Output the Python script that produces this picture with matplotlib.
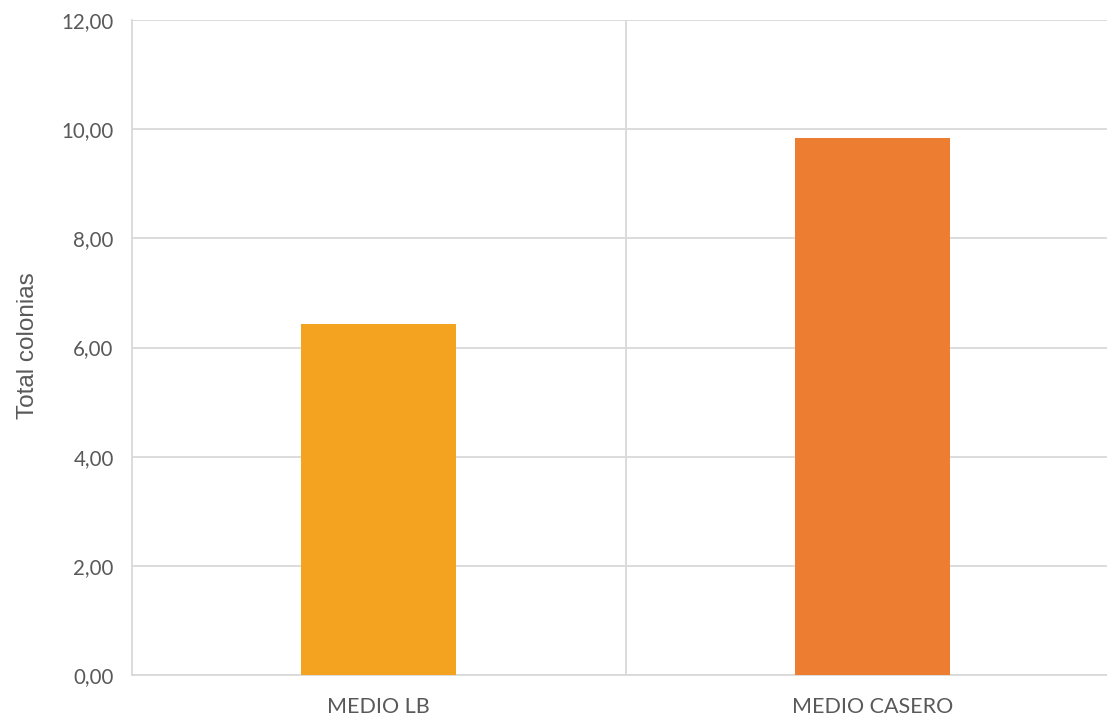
import matplotlib
matplotlib.use("Agg")
import matplotlib.pyplot as plt
from matplotlib.ticker import FuncFormatter

categories = ["MEDIO LB", "MEDIO CASERO"]
values = [6.43, 9.84]
colors = ["#F4A321", "#ED7D31"]
y_ticks = [0, 2, 4, 6, 8, 10, 12]

W, H = 1107, 721
fig = plt.figure(figsize=(W / 100, H / 100), dpi=100)
left, right, top, bottom = 131.7, 1107, 20, 675
ax = fig.add_axes([left / W, (H - bottom) / H, (right - left) / W, (bottom - top) / H])

cat_w = 494.0
ax.set_xlim(-0.5, -0.5 + (right - left) / cat_w)
ax.set_ylim(0, 12)

x = list(range(len(categories)))
ax.bar(x, values, width=155 / cat_w, color=colors, zorder=3)

grid_c = "#D9D9D9"
ax.set_yticks(y_ticks)
ax.yaxis.set_major_formatter(FuncFormatter(lambda v, p: f"{v:.2f}".replace(".", ",")))
ax.grid(axis="y", color=grid_c, linewidth=1.3, zorder=0)
ax.axvline(0.5, color=grid_c, linewidth=1.3, zorder=0)

for s in ["top", "right"]:
    ax.spines[s].set_visible(False)
for s in ["left", "bottom"]:
    ax.spines[s].set_color(grid_c)
    ax.spines[s].set_linewidth(1.3)

ax.set_xticks(x)
ax.set_xticklabels(categories)
txt_c = "#595959"
ax.tick_params(axis="both", length=0, colors=txt_c)
ax.tick_params(axis="y", pad=13, labelsize=14.8)
ax.tick_params(axis="x", pad=16, labelsize=15.5)
for lab in ax.get_xticklabels() + ax.get_yticklabels():
    lab.set_fontfamily("Lato")

fig.text(28 / W, 1 - 346 / H, "Total colonias", rotation=90, ha="center", va="center",
         color=txt_c, fontsize=17.5, fontfamily="Liberation Sans")

fig.savefig("out.png", dpi=100)
